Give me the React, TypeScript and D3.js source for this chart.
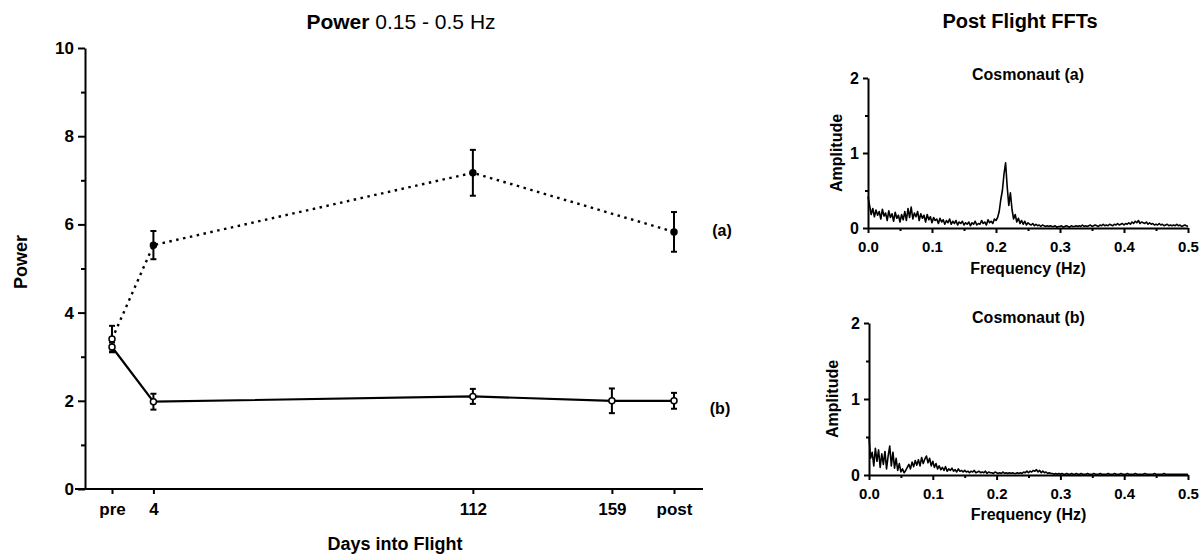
import React, { useEffect, useRef } from "react";
import * as d3 from "d3";

// main chart: power 0.15 - 0.5 Hz by day of flight
const dayLabels = ["pre", "4", "112", "159", "post"];
const dayValues = [-10, 4, 112, 159, 180];
const powerA = [3.4, 5.53, 7.17, null, 5.83];
const errorA = [0.3, 0.32, 0.52, null, 0.45];
const powerB = [3.22, 1.98, 2.1, 2.0, 2.0];
const errorB = [0.1, 0.18, 0.17, 0.28, 0.18];
const powerTicks = [0, 2, 4, 6, 8, 10];
const powerMinorTicks = [1, 3, 5, 7, 9];

// post flight FFTs, sampled every 0.0025 Hz from 0 to 0.5 Hz
const fftStep = 0.0025;
const fftA = [
  0.42, 0.3, 0.18, 0.26, 0.15, 0.24, 0.17, 0.22, 0.12, 0.25,
  0.16, 0.2, 0.1, 0.23, 0.14, 0.19, 0.09, 0.21, 0.13, 0.17,
  0.08, 0.18, 0.11, 0.22, 0.1, 0.26, 0.14, 0.28, 0.12, 0.2,
  0.15, 0.22, 0.1, 0.19, 0.13, 0.17, 0.08, 0.18, 0.11, 0.15,
  0.07, 0.14, 0.1, 0.12, 0.06, 0.13, 0.08, 0.11, 0.05, 0.1,
  0.07, 0.12, 0.05, 0.09, 0.06, 0.1, 0.04, 0.08, 0.06, 0.09,
  0.04, 0.07, 0.05, 0.08, 0.03, 0.07, 0.05, 0.09, 0.04, 0.06,
  0.05, 0.1, 0.06, 0.08, 0.04, 0.11, 0.07, 0.09, 0.06, 0.12,
  0.1, 0.14, 0.22, 0.38, 0.5, 0.72, 0.87, 0.55, 0.3, 0.47,
  0.25, 0.12, 0.18, 0.08, 0.13, 0.06, 0.1, 0.05, 0.09, 0.04,
  0.07, 0.05, 0.04, 0.06, 0.03, 0.05, 0.03, 0.04, 0.02, 0.04,
  0.03, 0.02, 0.03, 0.02, 0.03, 0.02, 0.02, 0.03, 0.01, 0.02,
  0.02, 0.03, 0.01, 0.02, 0.03, 0.02, 0.01, 0.03, 0.02, 0.02,
  0.03, 0.02, 0.03, 0.02, 0.04, 0.02, 0.03, 0.02, 0.03, 0.04,
  0.02, 0.03, 0.04, 0.03, 0.02, 0.04, 0.03, 0.05, 0.03, 0.04,
  0.03, 0.05, 0.04, 0.03, 0.05, 0.04, 0.06, 0.04, 0.05, 0.06,
  0.04, 0.06, 0.05, 0.07, 0.05, 0.08, 0.06, 0.09, 0.07, 0.1,
  0.06, 0.08, 0.07, 0.06, 0.08, 0.05, 0.07, 0.05, 0.06, 0.04,
  0.05, 0.04, 0.06, 0.04, 0.05, 0.03, 0.04, 0.05, 0.03, 0.04,
  0.03, 0.04, 0.03, 0.05, 0.03, 0.04, 0.02, 0.03, 0.04, 0.03, 0.02,
];
const fftB = [
  0.5, 0.22, 0.3, 0.12, 0.35, 0.18, 0.33, 0.1, 0.28, 0.14,
  0.31, 0.08, 0.25, 0.38, 0.12, 0.3, 0.09, 0.22, 0.06, 0.15,
  0.04, 0.08, 0.03, 0.06, 0.1, 0.14, 0.08, 0.17, 0.11, 0.19,
  0.13, 0.2, 0.12, 0.23, 0.15, 0.21, 0.25, 0.16, 0.22, 0.12,
  0.18, 0.1, 0.15, 0.08, 0.12, 0.07, 0.1, 0.06, 0.11, 0.05,
  0.08, 0.06, 0.09, 0.05, 0.07, 0.04, 0.08, 0.05, 0.06, 0.04,
  0.06, 0.04, 0.05, 0.03, 0.05, 0.04, 0.06, 0.03, 0.04, 0.05,
  0.03, 0.04, 0.03, 0.05, 0.02, 0.04, 0.03, 0.03, 0.02, 0.04,
  0.03, 0.02, 0.03, 0.02, 0.04, 0.02, 0.03, 0.02, 0.03, 0.02,
  0.03, 0.02, 0.02, 0.03, 0.02, 0.03, 0.02, 0.04, 0.03, 0.05,
  0.03, 0.05, 0.04, 0.06, 0.05, 0.07, 0.04, 0.06, 0.03, 0.05,
  0.03, 0.04, 0.02, 0.03, 0.02, 0.02, 0.01, 0.02, 0.01, 0.02,
  0.01, 0.02, 0.01, 0.01, 0.02, 0.01, 0.01, 0.02, 0.01, 0.01,
  0.02, 0.01, 0.01, 0.02, 0.01, 0.01, 0.01, 0.02, 0.01, 0.01,
  0.01, 0.02, 0.01, 0.01, 0.01, 0.02, 0.01, 0.01, 0.01, 0.01,
  0.02, 0.01, 0.01, 0.01, 0.02, 0.01, 0.01, 0.01, 0.02, 0.01,
  0.01, 0.01, 0.02, 0.01, 0.01, 0.01, 0.01, 0.02, 0.01, 0.01,
  0.01, 0.01, 0.01, 0.02, 0.01, 0.01, 0.01, 0.01, 0.01, 0.02,
  0.01, 0.01, 0.01, 0.01, 0.01, 0.02, 0.01, 0.01, 0.01, 0.01,
  0.01, 0.01, 0.01, 0.01, 0.01, 0.01, 0.01, 0.01, 0.01, 0.01, 0.01,
];
const freqTicks = [0, 0.1, 0.2, 0.3, 0.4, 0.5];
const freqMinorTicks = [0.05, 0.15, 0.25, 0.35, 0.45];
const ampTicks = [0, 1, 2];
const ampMinorTicks = [0.5, 1.5];

const font = "'Liberation Sans', Arial, Helvetica, sans-serif";

const styleAxis = (sel, size) => {
  sel.attr("font-family", font).attr("font-size", size).attr("font-weight", "bold");
  sel.selectAll("path").attr("stroke", "#000").attr("stroke-width", 2);
  sel.selectAll("line").attr("stroke", "#000").attr("stroke-width", 2);
  sel.selectAll("text").attr("fill", "#000");
};

const App = () => {
  const ref = useRef();

  useEffect(() => {
    const svg = d3.select(ref.current);
    svg.selectAll("*").remove();

    // ---- main chart ----
    const x = d3.scaleLinear().domain([-10, 180]).range([112, 674]);
    const y = d3.scaleLinear().domain([0, 10]).range([489, 48]);

    svg
      .append("g")
      .attr("transform", "translate(85,0)")
      .call(d3.axisLeft(y).tickValues(powerTicks).tickSize(7).tickSizeOuter(0).tickPadding(4))
      .call((s) => styleAxis(s, 17));

    svg
      .append("g")
      .attr("transform", "translate(85,0)")
      .call(d3.axisLeft(y).tickValues(powerMinorTicks).tickSize(4).tickFormat(() => ""))
      .call((s) => styleAxis(s, 17))
      .call((s) => s.select(".domain").remove());

    svg
      .append("g")
      .attr("transform", `translate(0,${y(0)})`)
      .call(
        d3
          .axisBottom(x)
          .tickValues(dayValues)
          .tickFormat((d, i) => dayLabels[i])
          .tickSize(5)
          .tickPadding(9)
      )
      .call((s) => styleAxis(s, 17))
      .call((s) => s.select(".domain").remove());

    svg
      .append("line")
      .attr("x1", 75)
      .attr("x2", 703)
      .attr("y1", y(0))
      .attr("y2", y(0))
      .attr("stroke", "#000")
      .attr("stroke-width", 2.2);

    const series = [
      { vals: powerA, errs: errorA, dash: "2.5 4.5", fill: "#000" },
      { vals: powerB, errs: errorB, dash: null, fill: "#fff" },
    ];

    series.forEach((s) => {
      const pts = dayValues
        .map((d, i) => ({ d, v: s.vals[i], e: s.errs[i] }))
        .filter((p) => p.v != null);

      svg
        .append("path")
        .datum(pts)
        .attr("fill", "none")
        .attr("stroke", "#000")
        .attr("stroke-width", s.dash ? 2.4 : 2.2)
        .attr("stroke-dasharray", s.dash)
        .attr(
          "d",
          d3
            .line()
            .x((p) => x(p.d))
            .y((p) => y(p.v))
        );

      const eb = svg.append("g").attr("stroke", "#000").attr("stroke-width", 2);
      pts.forEach((p) => {
        const cx = x(p.d);
        eb.append("line").attr("x1", cx).attr("x2", cx).attr("y1", y(p.v - p.e)).attr("y2", y(p.v + p.e));
        eb.append("line").attr("x1", cx - 3).attr("x2", cx + 3).attr("y1", y(p.v - p.e)).attr("y2", y(p.v - p.e));
        eb.append("line").attr("x1", cx - 3).attr("x2", cx + 3).attr("y1", y(p.v + p.e)).attr("y2", y(p.v + p.e));
      });

      svg
        .append("g")
        .selectAll("circle")
        .data(pts)
        .enter()
        .append("circle")
        .attr("cx", (p) => x(p.d))
        .attr("cy", (p) => y(p.v))
        .attr("r", 3)
        .attr("fill", (p, i) => (i === 0 ? "#fff" : s.fill))
        .attr("stroke", "#000")
        .attr("stroke-width", 1.5);
    });

    const txt = svg.append("g").attr("font-family", font).attr("fill", "#000");

    const title = txt
      .append("text")
      .attr("x", 401)
      .attr("y", 29)
      .attr("text-anchor", "middle")
      .attr("font-size", 21);
    title.append("tspan").attr("font-weight", "bold").text("Power");
    title.append("tspan").text(" 0.15 - 0.5 Hz");

    txt
      .append("text")
      .attr("x", 395)
      .attr("y", 550)
      .attr("text-anchor", "middle")
      .attr("font-size", 18)
      .attr("font-weight", "bold")
      .text("Days into Flight");

    txt
      .append("text")
      .attr("transform", "translate(27,262) rotate(-90)")
      .attr("text-anchor", "middle")
      .attr("font-size", 18)
      .attr("font-weight", "bold")
      .text("Power");

    txt
      .append("text")
      .attr("x", 722)
      .attr("y", 236)
      .attr("text-anchor", "middle")
      .attr("font-size", 16)
      .attr("font-weight", "bold")
      .text("(a)");

    txt
      .append("text")
      .attr("x", 720)
      .attr("y", 414)
      .attr("text-anchor", "middle")
      .attr("font-size", 16)
      .attr("font-weight", "bold")
      .text("(b)");

    txt
      .append("text")
      .attr("x", 1020)
      .attr("y", 28)
      .attr("text-anchor", "middle")
      .attr("font-size", 20)
      .attr("font-weight", "bold")
      .text("Post Flight FFTs");

    // ---- FFT panels ----
    const panels = [
      { data: fftA, name: "Cosmonaut (a)", xr: [868, 1188], yr: [228, 78], nameY: 80, freqY: 274, ampX: 842 },
      { data: fftB, name: "Cosmonaut (b)", xr: [869, 1188], yr: [475, 323], nameY: 323, freqY: 520, ampX: 838 },
    ];

    panels.forEach((p) => {
      const fx = d3.scaleLinear().domain([0, 0.5]).range(p.xr);
      const fy = d3.scaleLinear().domain([0, 2]).range(p.yr);

      svg
        .append("g")
        .attr("transform", `translate(${p.xr[0]},0)`)
        .call(
          d3
            .axisLeft(fy)
            .tickValues(ampTicks)
            .tickFormat(d3.format("d"))
            .tickSize(5)
            .tickSizeOuter(0)
            .tickPadding(4)
        )
        .call((s) => styleAxis(s, 16));

      svg
        .append("g")
        .attr("transform", `translate(${p.xr[0]},0)`)
        .call(d3.axisLeft(fy).tickValues(ampMinorTicks).tickSize(3).tickFormat(() => ""))
        .call((s) => styleAxis(s, 16))
        .call((s) => s.select(".domain").remove());

      svg
        .append("g")
        .attr("transform", `translate(0,${p.yr[0]})`)
        .call(
          d3
            .axisBottom(fx)
            .tickValues(freqTicks)
            .tickFormat(d3.format(".1f"))
            .tickSize(5)
            .tickSizeOuter(0)
            .tickPadding(8)
        )
        .call((s) => styleAxis(s, 15));

      svg
        .append("g")
        .attr("transform", `translate(0,${p.yr[0]})`)
        .call(d3.axisBottom(fx).tickValues(freqMinorTicks).tickSize(3).tickFormat(() => ""))
        .call((s) => styleAxis(s, 15))
        .call((s) => s.select(".domain").remove());

      svg
        .append("path")
        .datum(p.data)
        .attr("fill", "none")
        .attr("stroke", "#000")
        .attr("stroke-width", 1.6)
        .attr("stroke-linejoin", "round")
        .attr(
          "d",
          d3
            .line()
            .x((v, i) => fx(i * fftStep))
            .y((v) => fy(v))
        );

      const mid = (p.xr[0] + p.xr[1]) / 2;
      txt
        .append("text")
        .attr("x", mid)
        .attr("y", p.nameY)
        .attr("text-anchor", "middle")
        .attr("font-size", 16)
        .attr("font-weight", "bold")
        .text(p.name);

      txt
        .append("text")
        .attr("x", mid)
        .attr("y", p.freqY)
        .attr("text-anchor", "middle")
        .attr("font-size", 16)
        .attr("font-weight", "bold")
        .text("Frequency (Hz)");

      txt
        .append("text")
        .attr("transform", `translate(${p.ampX},${(p.yr[0] + p.yr[1]) / 2}) rotate(-90)`)
        .attr("text-anchor", "middle")
        .attr("font-size", 16)
        .attr("font-weight", "bold")
        .text("Amplitude");
    });
  }, []);

  return (
    <svg
      ref={ref}
      width={1202}
      height={557}
      style={{ position: "absolute", left: 0, top: 0, background: "#fff" }}
    ></svg>
  );
};

export default App;
